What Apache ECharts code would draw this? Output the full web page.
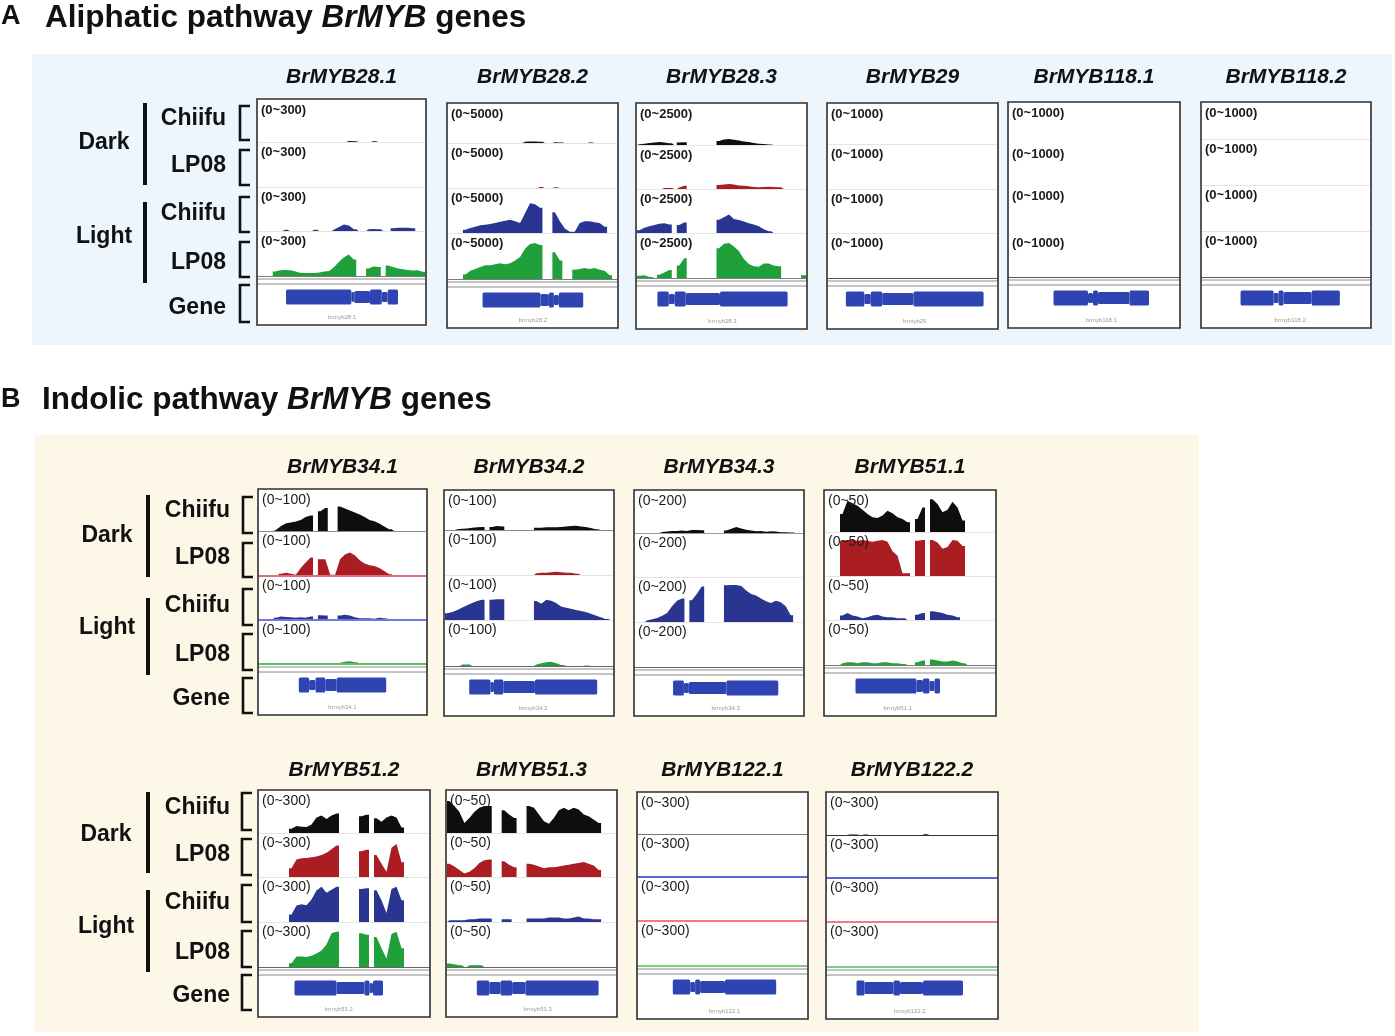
<!DOCTYPE html>
<html lang="en">
<head>
<meta charset="UTF-8">
<title>BrMYB coverage tracks</title>
<script src="https://cdn.jsdelivr.net/npm/echarts@6.0.0/dist/echarts.min.js"></script>
<style>
  html, body { margin: 0; padding: 0; background: #fff; }
  #chart { width: 1395px; height: 1036px; }
</style>
</head>
<body>
<div id="chart"></div>
<script>
const FONT = '"Liberation Sans", Arial, sans-serif';
const NBIN = 34;

// track order inside every panel
const conditions = ['Dark', 'Light'];
const samples = ['Chiifu', 'LP08', 'Chiifu', 'LP08', 'Gene'];

// gene names and data ranges
const genesA = ['BrMYB28.1', 'BrMYB28.2', 'BrMYB28.3', 'BrMYB29', 'BrMYB118.1', 'BrMYB118.2'];
const scalesA = [300, 5000, 2500, 1000, 1000, 1000];
const genesB1 = ['BrMYB34.1', 'BrMYB34.2', 'BrMYB34.3', 'BrMYB51.1'];
const scalesB1 = [100, 100, 200, 50];
const genesB2 = ['BrMYB51.2', 'BrMYB51.3', 'BrMYB122.1', 'BrMYB122.2'];
const scalesB2 = [300, 50, 300, 300];

// read coverage, 34 bins per track: Dark Chiifu, Dark LP08, Light Chiifu, Light LP08
const blank = [0,0,0,0,0,0,0,0,0,0, 0,0,0,0,0,0,0,0,0,0, 0,0,0,0,0,0,0,0,0,0, 0,0,0,0];

const cov28_1 = [
  [0,0,0,0,0,0,0,0,0,0, 0,0,0,0,0,0,0,0,8,6, 0,0,0,5,0,0,0,0,0,0, 0,0,0,0],
  blank,
  [0,0,0,0,0,9,0,0,0,0, 0,8,0,0,0,10,27,44,38,12, 0,0,12,14,12,0,0,18,22,22, 22,18,0,0],
  [0,0,0,30,38,40,38,32,22,20, 20,20,24,30,34,60,95,125,144,110, 0,0,50,64,60,0,70,60,50,45, 40,36,38,28]
];
const cov28_2 = [
  [0,0,0,0,0,0,0,0,0,0, 0,0,0,0,0,150,200,200,150,0, 0,100,80,0,0,0,0,0,60,0, 0,0,0,0],
  [0,0,0,0,0,0,0,0,0,0, 0,0,0,0,0,0,0,0,110,0, 0,90,0,0,0,0,0,0,0,0, 0,0,0,0],
  [0,0,0,370,550,700,850,925,1000,1100, 1250,1350,1480,1300,1100,2200,3300,3200,2800,0, 0,2300,1300,500,150,150,1100,1300,1300,1200, 1100,700,0,0],
  [0,0,0,500,900,1100,1300,1500,1500,1600, 1700,1600,1700,2000,2400,3300,3800,3900,3700,0, 0,2900,2000,0,0,1000,1100,1200,1100,1200, 1000,900,400,0]
];
const cov28_3 = [
  [50,80,120,160,180,160,100,0,150,170, 0,0,0,0,0,0,250,330,370,320, 270,220,180,120,80,60,30,0,0,0, 0,0,0,0],
  [0,0,0,0,0,50,60,0,80,180, 0,0,0,0,0,0,230,260,280,250, 200,180,150,110,100,120,130,110,100,0, 0,0,0,0],
  [150,300,380,450,530,560,480,0,450,600, 0,0,0,0,0,0,750,900,1050,800, 740,650,560,480,380,220,100,0,0,0, 0,0,0,0],
  [130,150,60,0,180,300,450,0,700,1100, 0,0,0,0,0,0,1650,1900,1950,1750, 1500,1050,780,650,620,800,800,700,650,0, 0,0,0,150]
];
const cov29 = [blank, blank, blank, blank];
const cov118_1 = [blank, blank, blank, blank];
const cov118_2 = [blank, blank, blank, blank];

const cov34_1 = [
  [0,0,0,3,12,19,21,23,27,34, 38,0,48,56,0,0,60,55,50,45, 40,34,27,24,18,11,4,0,0,0, 0,0,0,0],
  [0,0,0,0,5,7,5,3,18,30, 41,0,37,37,3,3,37,48,52,46, 35,28,24,22,18,11,4,0,0,0, 0,0,0,0],
  [0,0,0,5,8,7,6,5,6,5, 8,0,11,10,0,0,10,12,10,6, 4,4,4,3,5,4,2,0,0,0, 0,0,0,0],
  [0,0,0,0,0,0,0,0,0,0, 0,0,0,0,0,0,3,5,6,4, 0,0,0,0,0,0,0,0,0,0, 0,0,0,0]
];
const cov34_2 = [
  [0,0,2,3,4,6,7,8,0,8, 10,9,0,0,0,0,0,0,6,6, 7,7,7,8,9,10,11,9,8,5, 2,0,0,0],
  [0,0,0,0,0,0,0,0,0,0, 0,0,0,0,0,0,0,0,4,5, 5,6,7,6,5,5,3,0,0,0, 0,0,0,0],
  [15,18,22,28,33,38,42,45,0,45, 46,46,0,0,0,0,0,0,42,36, 45,43,38,30,27,25,22,20,18,14, 10,6,2,0],
  [0,0,0,3,3,0,0,0,0,0, 0,0,0,0,0,0,0,0,3,6, 8,9,6,2,0,0,0,0,1,0, 0,0,0,0]
];
const cov34_3 = [
  [0,0,0,0,0,5,7,9,10,12, 10,14,14,13,0,0,0,0,12,20, 28,22,15,12,8,10,6,8,7,4, 3,2,0,0],
  blank,
  [0,0,8,12,18,28,40,70,95,105, 0,97,125,158,0,0,0,0,163,165, 165,160,140,125,118,105,92,85,95,88, 70,30,0,0],
  blank
];
const cov51_1 = [
  [0,0,0,22,38,35,32,27,22,18, 17,20,26,23,18,16,12,0,16,30, 0,40,34,24,27,37,30,14,0,0, 0,0,0,0],
  [0,0,0,40,41,41,40,41,40,39, 40,41,39,28,23,3,3,0,40,41, 0,41,38,31,33,41,40,34,0,0, 0,0,0,0],
  [0,0,0,5,8,5,4,2,3,5, 6,4,3,3,2,2,0,0,6,8, 0,10,9,8,6,5,3,0,0,0, 0,0,0,0],
  [0,0,0,2,3,3,2,3,3,2, 2,3,3,2,2,1,0,0,3,5, 0,6,5,4,4,5,4,2,0,0, 0,0,0,0]
];
const cov51_2 = [
  [0,0,0,0,0,0,30,50,45,42, 60,110,125,100,125,140,0,0,0,0, 120,130,0,105,80,110,125,110,40,0, 0,0,0,0],
  [0,0,0,0,0,0,60,120,128,130, 135,140,150,165,190,215,0,0,0,0, 175,185,0,150,90,35,200,225,100,0, 0,0,0,0],
  [0,0,0,0,0,0,50,110,118,112, 150,210,235,195,215,235,0,0,0,0, 220,225,0,212,145,60,220,235,145,0, 0,0,0,0],
  [0,0,0,0,0,0,25,70,70,67, 75,90,110,150,225,235,0,0,0,0, 225,215,0,200,125,56,220,235,125,0, 0,0,0,0]
];
const cov51_3 = [
  [38,32,25,12,18,25,30,32,32,0, 0,27,22,18,0,0,32,30,22,14, 11,18,27,30,27,30,28,22,20,16, 12,0,0,0],
  [15,12,8,4,6,10,16,19,20,0, 0,18,14,11,0,0,15,14,12,10, 11,11,12,13,14,15,16,17,15,13, 8,0,0,0],
  [2,2,2,2,3,3,4,4,4,0, 0,3,3,0,0,0,4,4,4,4, 5,5,5,4,4,5,6,4,4,3, 3,0,0,0],
  [4,3,2,0,2,2,2,0,0,0, 0,0,0,0,0,0,0,0,0,0, 0,0,0,0,0,0,0,0,0,0, 0,0,0,0]
];
const cov122_1 = [
  blank,
  [0,0,0,0,0,0,0,0,0,0, 0,3,0,0,0,0,0,0,0,0, 0,0,0,0,0,0,0,0,0,0, 0,0,0,0],
  blank,
  blank
];
const cov122_2 = [
  [0,0,0,0,4,3,0,3,0,0, 0,0,0,0,0,0,0,0,0,5, 0,0,0,0,0,0,0,0,0,0, 0,0,0,0],
  [0,0,0,0,0,0,0,0,0,0, 0,0,0,0,6,0,0,0,0,5, 0,0,6,6,0,0,0,0,0,0, 0,0,0,0],
  blank,
  blank
];

// gene models: [start bin, end bin, part] part 0 = exon, 1 = thinner, 2 = notch
const gene28_1 = [[5.7,19.0,0],[19.0,19.6,2],[19.6,22.8,1],[22.8,25.2,0],[25.2,26.4,2],[26.4,28.5,0]];
const gene28_2 = [[6.95,18.6,0],[18.6,20.3,1],[20.3,21.3,0],[21.3,22.3,2],[22.3,27.2,0]];
const gene28_3 = [[4.1,6.4,0],[6.4,7.6,2],[7.6,9.8,0],[9.8,16.7,1],[16.7,30.3,0]];
const gene29 = [[3.6,7.3,0],[7.3,8.6,2],[8.6,10.9,0],[10.9,17.2,1],[17.2,31.3,0]];
const gene118_1 = [[8.9,15.8,0],[15.8,16.8,2],[16.8,17.8,0],[17.8,24.1,1],[24.1,28.0,0]];
const gene118_2 = [[7.8,14.5,0],[14.5,15.5,2],[15.5,16.5,0],[16.5,22.2,1],[22.2,27.9,0]];
const gene34_1 = [[8.1,10.2,0],[10.2,11.5,2],[11.5,13.5,0],[13.5,15.8,1],[15.8,25.9,0]];
const gene34_2 = [[4.9,9.2,0],[9.2,9.9,2],[9.9,11.8,0],[11.8,18.2,1],[18.2,30.8,0]];
const gene34_3 = [[7.7,9.9,0],[9.9,10.9,2],[10.9,18.5,1],[18.5,29.0,0]];
const gene51_1 = [[6.1,18.3,0],[18.3,19.6,1],[19.6,20.9,0],[20.9,21.9,2],[21.9,23.0,0]];
const gene51_2 = [[7.1,15.5,0],[15.5,21.1,1],[21.1,22.1,0],[22.1,22.8,2],[22.8,24.8,0]];
const gene51_3 = [[6.0,8.5,0],[8.5,10.8,1],[10.8,13.1,0],[13.1,15.8,1],[15.8,30.5,0]];
const gene122_1 = [[7.0,10.5,0],[10.5,11.5,2],[11.5,12.5,0],[12.5,17.5,1],[17.5,27.8,0]];
const gene122_2 = [[5.9,7.5,0],[7.5,13.3,1],[13.3,14.6,0],[14.6,19.2,1],[19.2,27.2,0]];

// colours
const STD = ['#0e0e0e', '#a91d23', '#2a3592', '#20a03b'];
const SWAP = ['#0e0e0e', '#3040b8', '#c8303c', '#20a03b'];
const GENE_BLUE = '#2e44b2';
const F = '#e4e4e4';
const PART_H = [15, 12, 10];

// panel layout: box [left, top, right, bottom], track baselines
const panels = [
  { gene: genesA[0], scale: scalesA[0], cov: cov28_1, model: gene28_1, row: 0, box: [257, 99, 426, 325], base: [142, 187, 231, 276], lines: [F, F, F, '#7d7d7d'], colors: STD },
  { gene: genesA[1], scale: scalesA[1], cov: cov28_2, model: gene28_2, row: 0, box: [447, 103, 618, 328], base: [143, 188, 233, 279], lines: [F, F, F, '#7d7d7d'], colors: STD },
  { gene: genesA[2], scale: scalesA[2], cov: cov28_3, model: gene28_3, row: 0, box: [636, 103, 807, 329], base: [145, 189, 233, 278], lines: [F, F, F, '#7d7d7d'], colors: STD },
  { gene: genesA[3], scale: scalesA[3], cov: cov29, model: gene29, row: 0, box: [827, 103, 998, 329], base: [144, 189, 233, 278], lines: [F, F, F, '#555'], colors: STD },
  { gene: genesA[4], scale: scalesA[4], cov: cov118_1, model: gene118_1, row: 0, box: [1008, 102, 1180, 328], base: [144, 186, 233, 277], lines: ['#fff', '#fff', '#fff', '#555'], colors: STD },
  { gene: genesA[5], scale: scalesA[5], cov: cov118_2, model: gene118_2, row: 0, box: [1201, 102, 1371, 328], base: [139, 185, 231, 277], lines: [F, F, F, '#555'], colors: STD },

  { gene: genesB1[0], scale: scalesB1[0], cov: cov34_1, model: gene34_1, row: 1, box: [258, 489, 427, 715], base: [531, 576, 620, 664], lines: ['#8a8a8a', '#e06c7c', '#6f78e0', '#5cc060'], lw: 2, colors: STD },
  { gene: genesB1[1], scale: scalesB1[1], cov: cov34_2, model: gene34_2, row: 1, box: [444, 490, 614, 716], base: [530, 575, 620, 666], lines: ['#8a8a8a', F, F, '#666'], colors: STD },
  { gene: genesB1[2], scale: scalesB1[2], cov: cov34_3, model: gene34_3, row: 1, box: [634, 490, 804, 716], base: [533, 577, 622, 667], lines: ['#999', F, F, '#666'], colors: STD },
  { gene: genesB1[3], scale: scalesB1[3], cov: cov51_1, model: gene51_1, row: 1, box: [824, 490, 996, 716], base: [532, 576, 620, 665], lines: [F, F, F, '#777'], colors: STD },

  { gene: genesB2[0], scale: scalesB2[0], cov: cov51_2, model: gene51_2, row: 2, box: [258, 790, 430, 1017], base: [833, 877, 922, 967], lines: [F, F, F, '#666'], colors: STD },
  { gene: genesB2[1], scale: scalesB2[1], cov: cov51_3, model: gene51_3, row: 2, box: [446, 790, 617, 1017], base: [833, 877, 922, 967], lines: [F, F, F, '#666'], colors: STD },
  { gene: genesB2[2], scale: scalesB2[2], cov: cov122_1, model: gene122_1, row: 2, box: [637, 792, 808, 1019], base: [834, 877, 921, 966], lines: ['#777', '#5a66d8', '#f07a88', '#7ed07e'], lw: 2, colors: SWAP },
  { gene: genesB2[3], scale: scalesB2[3], cov: cov122_2, model: gene122_2, row: 2, box: [826, 792, 998, 1019], base: [835, 878, 922, 967], lines: ['#333', '#5a66d8', '#f07a88', '#7ed07e'], lw: 2, colors: SWAP }
];

// left side labels per row of panels
const rowGroups = [
  { headerY: 77, labelX: 226, condX: 104, barX: 143, brX: 240, labelY: [119, 166, 214, 263, 308], condY: [143, 237],
    bars: [[103, 185], [202, 283]], brackets: [[106, 140], [150, 185], [197, 232], [242, 277], [285, 322]], tick: 13, trackFont: 'bold' },
  { headerY: 467, labelX: 230, condX: 107, barX: 146, brX: 243, labelY: [511, 558, 606, 655, 699], condY: [536, 628],
    bars: [[495, 577], [598, 675]], brackets: [[497, 533], [543, 577], [589, 625], [634, 670], [678, 713]], tick: 14, trackFont: 'normal' },
  { headerY: 770, labelX: 230, condX: 106, barX: 146, brX: 242, labelY: [808, 855, 903, 953, 996], condY: [835, 927],
    bars: [[792, 873], [890, 972]], brackets: [[793, 830], [839, 875], [885, 922], [931, 967], [975, 1010]], tick: 14, trackFont: 'normal' }
];

const chart = echarts.init(document.getElementById('chart'));

const grid = [], xAxis = [], yAxis = [], series = [];
const graphic = [
  { type: 'rect', shape: { x: 32, y: 54, width: 1360, height: 291 }, style: { fill: '#eef6fd' }, z: 0 },
  { type: 'rect', shape: { x: 35, y: 435, width: 1164, height: 597 }, style: { fill: '#fdf7e8' }, z: 0 }
];

// bin values -> area points: linear inside a covered block, vertical walls where coverage starts or stops
function coveragePoints(vals) {
  const pts = [];
  vals.forEach((v, i) => {
    const prev = i > 0 ? vals[i - 1] : 0;
    const next = i < vals.length - 1 ? vals[i + 1] : 0;
    if (v > 0 && prev === 0) pts.push([i, 0], [i, v]);
    pts.push([i + 0.5, v]);
    if (v > 0 && next === 0) pts.push([i + 1, v], [i + 1, 0]);
  });
  return pts;
}

function geneItem(params, api) {
  const s = api.coord([api.value(0), 0]);
  const e = api.coord([api.value(1), 0]);
  const h = PART_H[api.value(2)];
  return {
    type: 'rect',
    shape: { x: s[0], y: s[1] - h / 2, width: e[0] - s[0], height: h, r: 1.5 },
    style: { fill: GENE_BLUE }
  };
}

panels.forEach(p => {
  const [x0, y0, x1, y1] = p.box;
  const w = x1 - x0;
  const rg = rowGroups[p.row];

  graphic.push({ type: 'rect', shape: { x: x0, y: y0, width: w, height: y1 - y0 }, style: { fill: '#fff' }, z: 1 });
  graphic.push({ type: 'rect', shape: { x: x0, y: y0, width: w, height: y1 - y0 }, style: { fill: 'none', stroke: '#2e2e2e', lineWidth: 1.6 }, z: 20 });
  graphic.push({
    type: 'text', x: (x0 + x1) / 2, y: rg.headerY, z: 20,
    style: { text: p.gene, font: 'italic bold 21px ' + FONT, fill: '#111', textAlign: 'center', textVerticalAlign: 'middle' }
  });

  for (let t = 0; t < 4; t++) {
    const top = t === 0 ? y0 + 1 : p.base[t - 1];
    const gi = grid.length;
    grid.push({ left: x0 + 1, top: top, width: w - 2, height: p.base[t] - top });
    xAxis.push({
      gridIndex: gi, type: 'value', min: 0, max: NBIN, z: 6,
      axisLine: { show: true, lineStyle: { color: p.lines[t], width: p.lw && t > 0 ? p.lw : 1.2 } },
      axisTick: { show: false }, axisLabel: { show: false }, splitLine: { show: false }
    });
    yAxis.push({ gridIndex: gi, type: 'value', min: 0, max: p.scale, show: false });
    series.push({
      type: 'line', xAxisIndex: gi, yAxisIndex: gi, data: coveragePoints(p.cov[t]),
      symbol: 'none', silent: true, lineStyle: { width: 0 },
      areaStyle: { color: p.colors[t], opacity: 1 }, z: 3
    });
    graphic.push({
      type: 'text', x: x0 + 4, y: top + 10, z: 22,
      style: { text: '(0~' + p.scale + ')', font: rg.trackFont + ' ' + rg.tick + 'px ' + FONT, fill: '#1a1a1a', textVerticalAlign: 'middle' }
    });
  }

  // double separator above the gene track
  const b4 = p.base[3];
  [b4 + 3, b4 + 8].forEach(yy => {
    graphic.push({ type: 'line', shape: { x1: x0, y1: yy, x2: x1, y2: yy }, style: { stroke: '#8a8a8a', lineWidth: 1.2 }, z: 15 });
  });

  const gi = grid.length;
  grid.push({ left: x0 + 1, top: b4 + 11, width: w - 2, height: 20 });
  xAxis.push({ gridIndex: gi, type: 'value', min: 0, max: NBIN, show: false });
  yAxis.push({ gridIndex: gi, type: 'value', min: -1, max: 1, show: false });
  series.push({
    type: 'custom', xAxisIndex: gi, yAxisIndex: gi, renderItem: geneItem,
    data: p.model, encode: { x: [0, 1] }, silent: true, z: 3
  });
  const gs = p.model[0][0], ge = p.model[p.model.length - 1][1];
  graphic.push({
    type: 'text', x: x0 + 1 + (w - 2) * (gs + ge) / 2 / NBIN, y: y1 - 8, z: 20,
    style: { text: p.gene.toLowerCase(), font: '6px ' + FONT, fill: '#999', textAlign: 'center', textVerticalAlign: 'middle' }
  });
});

// row labels, condition bars and brackets
rowGroups.forEach(rg => {
  samples.forEach((s, i) => {
    graphic.push({
      type: 'text', x: rg.labelX, y: rg.labelY[i], z: 20,
      style: { text: s, font: 'bold 23px ' + FONT, fill: '#111', textAlign: 'right', textVerticalAlign: 'middle' }
    });
    const [a, b] = rg.brackets[i];
    graphic.push({
      type: 'polyline', z: 20,
      shape: { points: [[rg.brX + 10, a], [rg.brX, a], [rg.brX, b], [rg.brX + 10, b]] },
      style: { stroke: '#111', lineWidth: 2.6, fill: 'none' }
    });
  });
  conditions.forEach((c, i) => {
    graphic.push({
      type: 'text', x: rg.condX, y: rg.condY[i], z: 20,
      style: { text: c, font: 'bold 23px ' + FONT, fill: '#111', textAlign: 'center', textVerticalAlign: 'middle' }
    });
    graphic.push({
      type: 'rect', z: 20,
      shape: { x: rg.barX, y: rg.bars[i][0], width: 4, height: rg.bars[i][1] - rg.bars[i][0] },
      style: { fill: '#111' }
    });
  });
});

const titleRich = {
  n: { fontSize: 31.5, fontWeight: 'bold', fontFamily: FONT, color: '#111', lineHeight: 36 },
  i: { fontSize: 31.5, fontWeight: 'bold', fontStyle: 'italic', fontFamily: FONT, color: '#111', lineHeight: 36 }
};

const option = {
  backgroundColor: '#fff',
  animation: false,
  title: [
    { text: 'A', left: 1, top: 1, padding: 0, textStyle: { fontSize: 27, fontWeight: 'bold', fontFamily: FONT, color: '#111', lineHeight: 32 } },
    { text: '{n|Aliphatic pathway }{i|BrMYB}{n| genes}', left: 45, top: 0, padding: 0, textStyle: { rich: titleRich } },
    { text: 'B', left: 1, top: 384, padding: 0, textStyle: { fontSize: 27, fontWeight: 'bold', fontFamily: FONT, color: '#111', lineHeight: 32 } },
    { text: '{n|Indolic pathway }{i|BrMYB}{n| genes}', left: 42, top: 382, padding: 0, textStyle: { rich: titleRich } }
  ],
  grid: grid,
  xAxis: xAxis,
  yAxis: yAxis,
  series: series,
  graphic: graphic
};

chart.setOption(option);

window.addEventListener('resize', function () {
  chart.resize();
});
</script>
</body>
</html>
